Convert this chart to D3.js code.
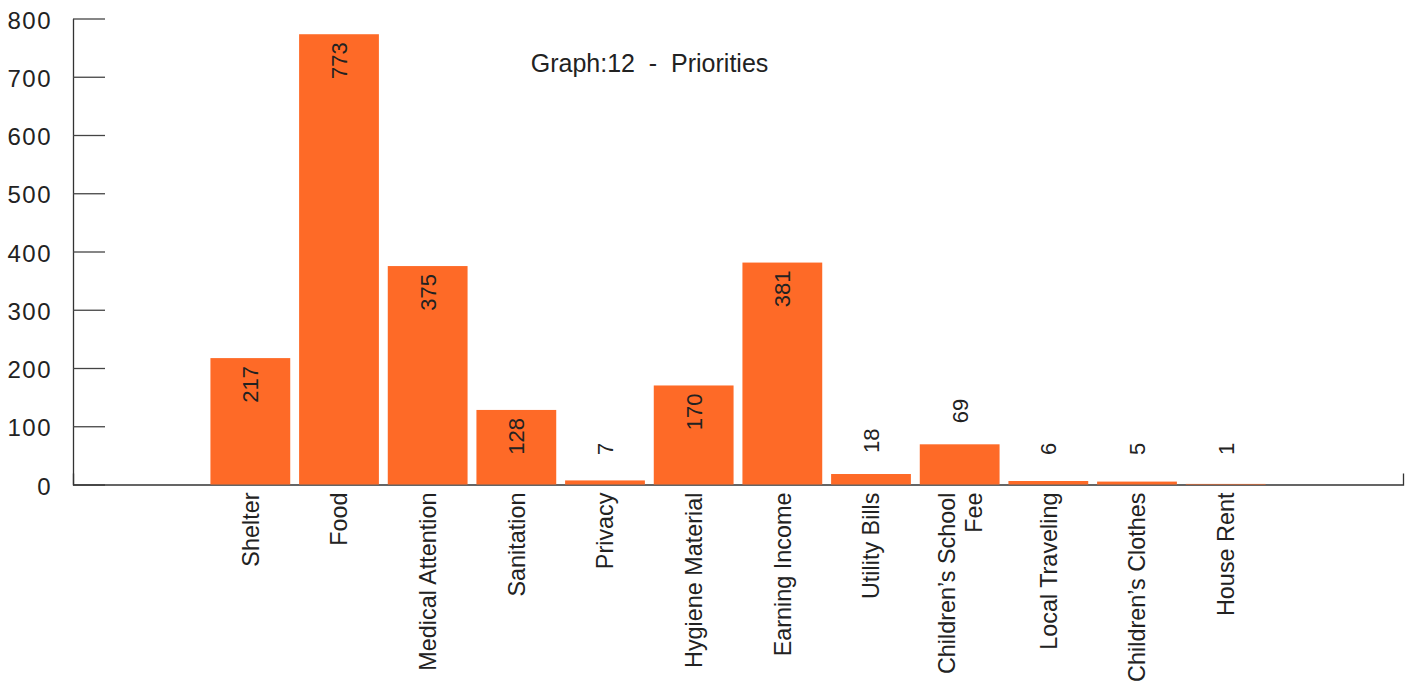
<!DOCTYPE html>
<html>
<head>
<meta charset="utf-8">
<script src="https://cdn.jsdelivr.net/npm/d3@7"></script>
<style>
  html, body { margin: 0; padding: 0; background: #fff; }
  svg { display: block; font-family: "Liberation Sans", Arial, Helvetica, sans-serif; }
</style>
</head>
<body>
<svg id="chart" width="1413" height="682"></svg>
<script>
// Survey responses: what people named as their priorities
const categories = [
  "Shelter", "Food", "Medical Attention", "Sanitation", "Privacy",
  "Hygiene Material", "Earning Income", "Utility Bills",
  "Children\u2019s School Fee", "Local Traveling", "Children\u2019s Clothes", "House Rent"
];
const values = [217, 773, 375, 128, 7, 170, 381, 18, 69, 6, 5, 1];
const yTicks = [0, 100, 200, 300, 400, 500, 600, 700, 800];
const title = "Graph:12  -  Priorities";

// Category names that break onto two lines
const labelLines = {
  "Children\u2019s School Fee": ["Children\u2019s School", "Fee"]
};

const data = categories.map((c, i) => ({ category: c, value: values[i] }));

const svg = d3.select("#chart");
const plotLeft = 73, plotRight = 1403, plotTop = 18.5, plotBottom = 484.5;
const barColor = "#fe6a27";
const inkColor = "#222";

const x = d3.scaleBand()
  .domain(categories)
  .range([plotLeft, plotRight])
  .paddingInner(0.1)
  .paddingOuter(1.55);

const y = d3.scaleLinear()
  .domain([0, 800])
  .range([plotBottom, plotTop]);

// Y axis: inward ticks, labels on the left
const yAxis = svg.append("g")
  .attr("transform", `translate(${plotLeft},0)`)
  .call(d3.axisLeft(y).tickValues(yTicks).tickSize(-32).tickSizeOuter(0).tickPadding(21));
yAxis.select(".domain").attr("stroke", "#333").attr("stroke-width", 1.3);
yAxis.selectAll(".tick line").attr("stroke", "#444").attr("stroke-width", 1.3);
yAxis.selectAll(".tick text")
  .attr("fill", inkColor)
  .attr("font-size", 24)
  .attr("letter-spacing", 1.5)
  .attr("font-family", "Liberation Sans, Arial, sans-serif")
  .attr("dy", "0.40em");

// X axis: baseline with a short upturned end, rotated category names
const xAxis = svg.append("g")
  .attr("transform", `translate(0,${plotBottom})`)
  .call(d3.axisBottom(x).tickSize(0).tickSizeOuter(-11).tickPadding(0));
xAxis.select(".domain").attr("stroke", "#333").attr("stroke-width", 1.3);
xAxis.selectAll(".tick text").remove();

const labelGroup = svg.append("g")
  .attr("font-size", 23.4)
  .attr("fill", inkColor);

categories.forEach(c => {
  const lines = labelLines[c] || [c];
  const cx = x(c) + x.bandwidth() / 2;
  const lh = 27;
  lines.forEach((line, k) => {
    const off = (k - (lines.length - 1) / 2) * lh;
    labelGroup.append("text")
      .attr("transform", `translate(${cx + off},${plotBottom + 8}) rotate(-90)`)
      .attr("text-anchor", "end")
      .attr("dy", "0.36em")
      .text(line);
  });
});

// Bars (drawn over the baseline)
svg.append("g")
  .selectAll("rect")
  .data(data)
  .join("rect")
  .attr("x", d => x(d.category))
  .attr("width", x.bandwidth())
  .attr("y", d => y(d.value))
  .attr("height", d => y(0) - y(d.value))
  .attr("fill", barColor);

// Value labels, read bottom-to-top: inside tall bars, above short ones
svg.append("g")
  .attr("font-size", 22)
  .attr("fill", inkColor)
  .selectAll("text")
  .data(data)
  .join("text")
  .attr("transform", d => {
    const cx = x(d.category) + x.bandwidth() / 2;
    const inside = d.value > 100;
    const py = inside ? y(d.value) + 8 : Math.min(y(d.value) - 21, 455);
    return `translate(${cx},${py}) rotate(-90)`;
  })
  .attr("text-anchor", d => d.value > 100 ? "end" : "start")
  .attr("dy", "0.36em")
  .text(d => d.value);

// Title
svg.append("text")
  .attr("x", 649.5)
  .attr("y", 72)
  .attr("text-anchor", "middle")
  .attr("font-size", 25)
  .attr("fill", inkColor)
  .attr("xml:space", "preserve")
  .style("white-space", "pre")
  .text(title);
</script>
</body>
</html>
